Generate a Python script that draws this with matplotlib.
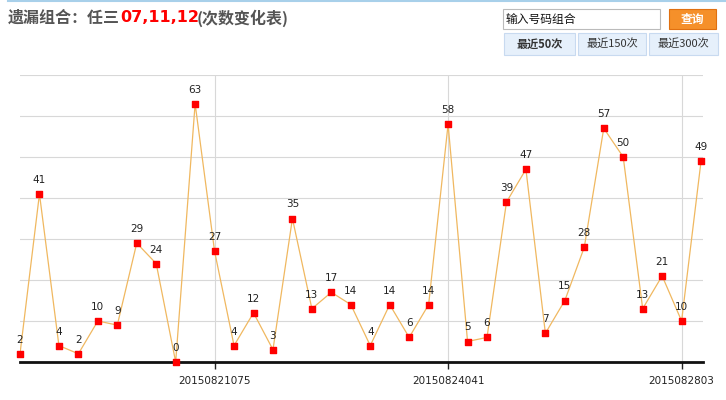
import matplotlib.pyplot as plt
from matplotlib.patches import Rectangle

plt.rcParams['font.family'] = ['Noto Sans CJK SC', 'DejaVu Sans']

values = [2, 41, 4, 2, 10, 9, 29, 24, 0, 63, 27, 4, 12, 3, 35, 13, 17, 14,
          4, 14, 6, 14, 58, 5, 6, 39, 47, 7, 15, 28, 57, 50, 13, 21, 10, 49]
tick_idx = [10, 22, 34]
tick_labels = ['20150821075', '20150824041', '2015082803']

W, H = 726, 400
fig = plt.figure(figsize=(W / 100, H / 100), dpi=100)

def fx(px):
    return px / W

def fy(py):
    return 1 - py / H

# plot area: x 20..703, y 75..362
ax = fig.add_axes([fx(20), fy(362), fx(703 - 20), (362 - 75) / H])
x = list(range(len(values)))
ax.plot(x, values, color='#f0b860', lw=0.9, zorder=2)
ax.scatter(x, values, marker='s', s=22, color='#ff0000', zorder=3, clip_on=False)
for i, v in enumerate(values):
    ax.text(i, v + 2.2, str(v), ha='center', va='bottom', fontsize=7.5,
            family='DejaVu Sans', color='#222222')

ax.set_xlim(0, 35.1)
ax.set_ylim(0, 70)
ax.set_yticks(range(0, 71, 10))
ax.set_xticks(tick_idx)
ax.set_xticklabels([])
ax.tick_params(axis='y', length=0, labelleft=False)
ax.tick_params(axis='x', length=5, width=1, color='#222222')
ax.grid(True, color='#d8d8d8', lw=0.8)
for s in ['top', 'right', 'left']:
    ax.spines[s].set_visible(False)
ax.spines['bottom'].set_linewidth(2)
ax.spines['bottom'].set_color('#111111')
ax.set_axisbelow(True)

for i, lab in zip(tick_idx, tick_labels):
    px = 20 + i * (683 / 35.1)
    fig.text(fx(px), fy(381), lab, ha='center', va='center', fontsize=7.5,
             family='DejaVu Sans', color='#222222')

# header
fig.add_artist(plt.Line2D([fx(8), 1], [fy(1), fy(1)], color='#a8d0ea', lw=1.5))
fig.text(fx(8), fy(18), '遗漏组合：任三', fontsize=11.5, weight='bold',
         color='#555555', va='center')
fig.text(fx(120), fy(18), '07,11,12', fontsize=11.5, weight='bold',
         color='#ff0000', va='center', family='DejaVu Sans')
fig.text(fx(197), fy(18), '(次数变化表)', fontsize=11.5, weight='bold',
         color='#555555', va='center')

fig.add_artist(Rectangle((fx(503), fy(29)), fx(157), 20 / H, fc='white',
                         ec='#bbbbbb', lw=0.8))
fig.text(fx(506), fy(19), '输入号码组合', fontsize=8.5, va='center', color='#111111')
fig.add_artist(Rectangle((fx(669), fy(29)), fx(47), 20 / H, fc='#f5902a',
                         ec='#e07010', lw=0.8))
fig.text(fx(692), fy(19), '查询', fontsize=8.5, va='center', ha='center',
         color='white', weight='bold')

buttons = [(504, 575, '最近50次', 'bold'), (578, 646, '最近150次', 'normal'),
           (649, 718, '最近300次', 'normal')]
for x0, x1, lab, wt in buttons:
    fig.add_artist(Rectangle((fx(x0), fy(55)), fx(x1 - x0), 22 / H,
                             fc='#e6f0fb', ec='#c8daf0', lw=0.8))
    fig.text(fx((x0 + x1) / 2), fy(44), lab, fontsize=8, ha='center',
             va='center', color='#333333', weight=wt)

fig.savefig('out.png', dpi=100)
